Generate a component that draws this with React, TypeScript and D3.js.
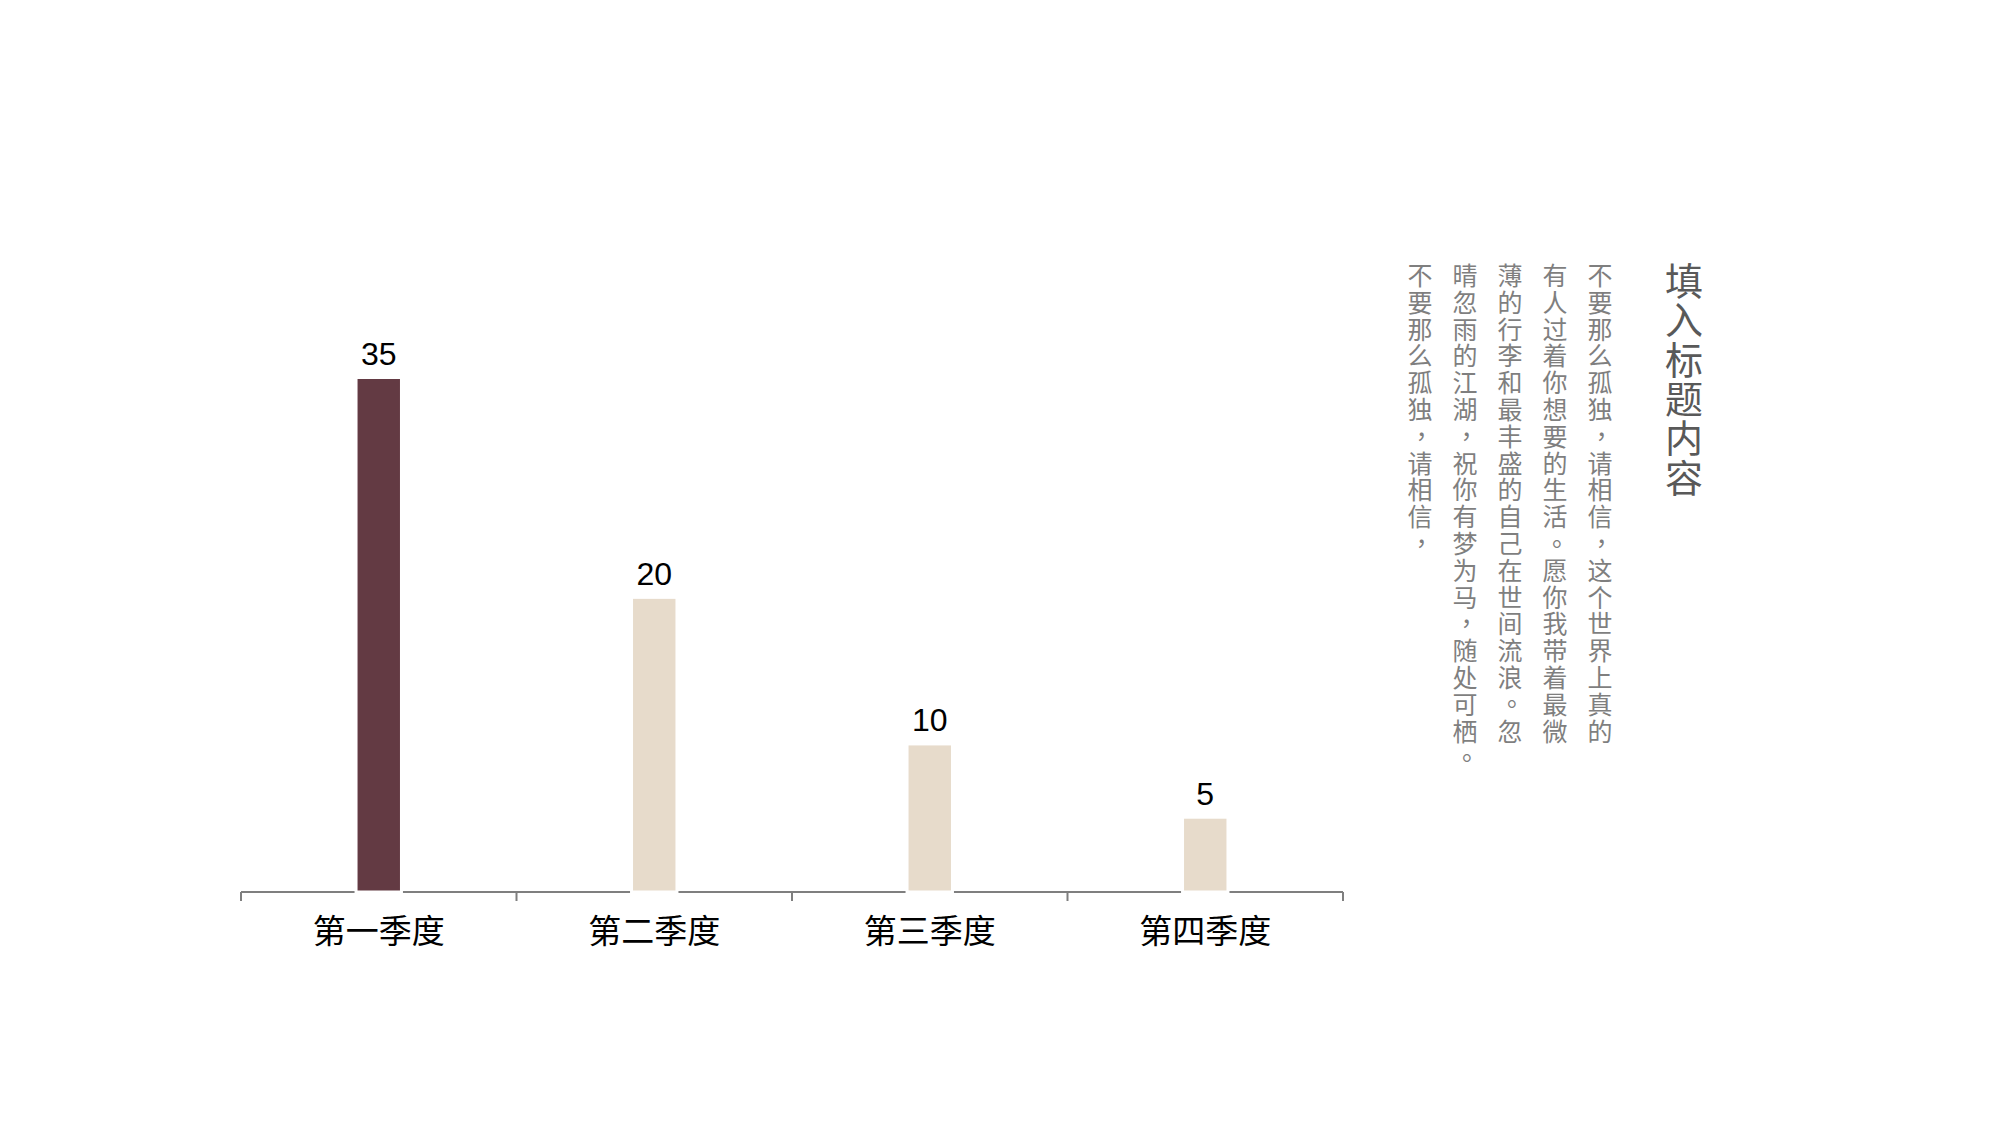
import React from "react";
import * as d3 from "d3";

const categories = ["第一季度", "第二季度", "第三季度", "第四季度"];
const values = [35, 20, 10, 5];
const barColors = ["#633A43", "#E7DBCB", "#E7DBCB", "#E7DBCB"];
const titleText = "填入标题内容";
const bodyColumns = [
  "不要那么孤独，请相信，这个世界上真的",
  "有人过着你想要的生活。愿你我带着最微",
  "薄的行李和最丰盛的自己在世间流浪。忽",
  "晴忽雨的江湖，祝你有梦为马，随处可栖。",
  "不要那么孤独，请相信，",
];

const W = 2000;
const H = 1125;
const CJK = "'Noto Sans CJK SC', 'Noto Sans', sans-serif";
const LATIN = "'Liberation Sans', Arial, sans-serif";

export default function App() {
  const x = d3.scaleBand<string>().domain(categories).range([241, 1343]).paddingInner(0).paddingOuter(0);
  const y = d3.scaleLinear().domain([0, 35]).range([892, 379]);
  const bw = x.bandwidth() * 0.154;
  const baseY = y(0);
  const tickXs = [...categories.map((c) => x(c) as number), x.range()[1]];

  const punctOffset = (ch: string, size: number) => {
    if (ch === "，") return { dx: size * 0.32, dy: -size * 0.32 };
    if (ch === "。") return { dx: size * 0.38, dy: -size * 0.3 };
    return { dx: 0, dy: 0 };
  };

  const bodySize = 25;
  const bodyPitch = 26.8;
  const bodyTop = 274;
  const colX0 = 1600;
  const colStep = 45;

  const titleSize = 38;
  const titlePitch = 39.3;
  const titleTop = 278;
  const titleX = 1684;

  return (
    <svg width={W} height={H} style={{ position: "absolute", left: 0, top: 0, background: "#fff" }}>
      <rect x={0} y={0} width={W} height={H} fill="#ffffff" />
      {/* axis */}
      <line x1={x.range()[0]} x2={x.range()[1]} y1={baseY} y2={baseY} stroke="#7F7F7F" strokeWidth={2} />
      {tickXs.map((tx, i) => (
        <line key={"t" + i} x1={tx} x2={tx} y1={baseY} y2={baseY + 9} stroke="#7F7F7F" strokeWidth={2} />
      ))}
      {/* bars */}
      {categories.map((c, i) => {
        const cx = (x(c) as number) + x.bandwidth() / 2;
        const top = y(values[i]);
        return (
          <rect
            key={"b" + i}
            x={cx - bw / 2 - 1.5}
            y={top - 1.5}
            width={bw + 3}
            height={baseY - top + 1.5}
            fill={barColors[i]}
            stroke="#ffffff"
            strokeWidth={3}
          />
        );
      })}
      {/* value labels */}
      {categories.map((c, i) => {
        const cx = (x(c) as number) + x.bandwidth() / 2;
        return (
          <text
            key={"v" + i}
            x={cx}
            y={y(values[i]) - 14}
            textAnchor="middle"
            fontFamily={LATIN}
            fontSize={32}
            fill="#000000"
          >
            {values[i]}
          </text>
        );
      })}
      {/* category labels */}
      {categories.map((c, i) => {
        const cx = (x(c) as number) + x.bandwidth() / 2;
        return (
          <text
            key={"c" + i}
            x={cx}
            y={929}
            textAnchor="middle"
            dominantBaseline="central"
            fontFamily={CJK}
            fontSize={33}
            fill="#000000"
          >
            {c}
          </text>
        );
      })}
      {/* title, vertical */}
      <text
        textAnchor="middle"
        dominantBaseline="central"
        fontFamily={CJK}
        fontSize={titleSize}
        fill="#595959"
      >
        {Array.from(titleText).map((ch, i) => (
          <tspan key={"h" + i} x={titleX} y={titleTop + i * titlePitch}>
            {ch}
          </tspan>
        ))}
      </text>
      {/* body text, vertical columns right-to-left */}
      {bodyColumns.map((col, ci) => (
        <text
          key={"col" + ci}
          textAnchor="middle"
          dominantBaseline="central"
          fontFamily={CJK}
          fontSize={bodySize}
          fill="#7F7F7F"
        >
          {Array.from(col).map((ch, i) => {
            const o = punctOffset(ch, bodySize);
            return (
              <tspan
                key={"p" + ci + "_" + i}
                x={colX0 - ci * colStep + o.dx}
                y={bodyTop + i * bodyPitch + o.dy}
              >
                {ch}
              </tspan>
            );
          })}
        </text>
      ))}
    </svg>
  );
}
